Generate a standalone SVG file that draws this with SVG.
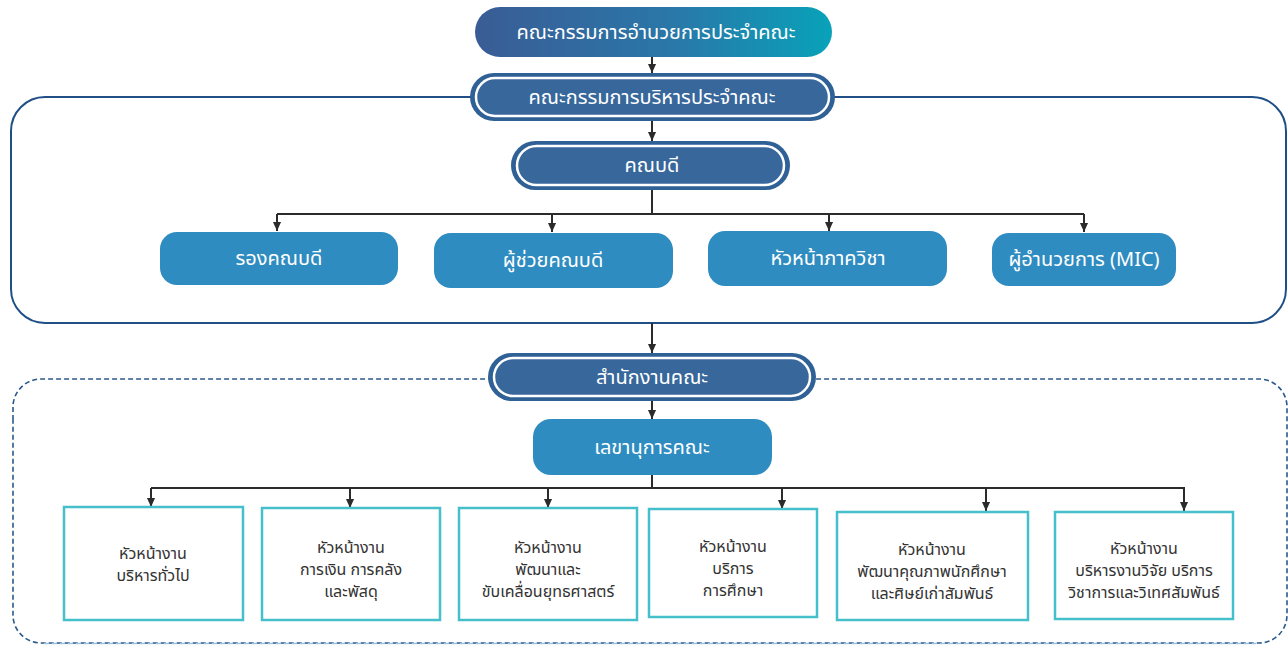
<svg xmlns="http://www.w3.org/2000/svg" width="1288" height="645" viewBox="0 0 1288 645">
  <defs>
    <linearGradient id="gTop" x1="0" y1="0" x2="1" y2="0">
      <stop offset="0" stop-color="#3a5c95"/>
      <stop offset="0.55" stop-color="#2a77a8"/>
      <stop offset="1" stop-color="#08a2b9"/>
    </linearGradient>
    <marker id="ah" viewBox="0 0 10 10" refX="10" refY="5" markerWidth="9" markerHeight="9" markerUnits="userSpaceOnUse" orient="auto">
      <path d="M0,0.5 L10,5 L0,9.5 z" fill="#2b2b2b"/>
    </marker>
    <style>
      text { font-family: "Noto Sans Thai", "Noto Sans", "DejaVu Sans", sans-serif; text-anchor: middle; }
      .w { fill: #ffffff; font-size: 20px; }
      .d { fill: #333333; font-size: 16px; }
      .dark { fill: #2f6096; }
      .ring { fill: #37679b; stroke: #ffffff; stroke-width: 2.5; }
      .mid { fill: #2e8cc1; }
      .box { fill: #ffffff; stroke: #45c0cb; stroke-width: 2.5; }
      .con { fill: none; stroke: #2b2b2b; stroke-width: 2; }
      .arr { fill: none; stroke: #2b2b2b; stroke-width: 2; marker-end: url(#ah); }
    </style>
  </defs>
  <rect width="1288" height="645" fill="#ffffff"/>

  <g id="containers">
    <rect x="11" y="97" width="1275" height="226" rx="34" ry="34" fill="none" stroke="#1f4f86" stroke-width="2"/>
    <path d="M13,420 V407 A28,28 0 0 1 41,379 H1259 A28,28 0 0 1 1287,407 V615 A28,28 0 0 1 1259,643 H41 A28,28 0 0 1 13,615 V420" fill="none" stroke="#2a5a8c" stroke-width="1.6" stroke-dasharray="5 3"/>
    <line x1="44" y1="643.5" x2="1256" y2="643.5" stroke="#9fc0de" stroke-width="1.6" stroke-dasharray="5 3"/>
  </g>

  <g id="connectors">
    <path class="arr" d="M652,57 V73"/>
    <path class="arr" d="M652,121 V141"/>
    <path class="con" d="M652,190 V214 M277,214 H1084"/>
    <path class="arr" d="M277,214 V231"/>
    <path class="arr" d="M552,214 V232"/>
    <path class="arr" d="M829,214 V231"/>
    <path class="arr" d="M1084,214 V232"/>
    <path class="arr" d="M652,323 V353"/>
    <path class="arr" d="M652,401 V419"/>
    <path class="con" d="M652,475 V488 M151,488 H1185"/>
    <path class="arr" d="M151,488 V507"/>
    <path class="arr" d="M350,488 V508"/>
    <path class="arr" d="M548,488 V508"/>
    <path class="arr" d="M782,488 V509"/>
    <path class="arr" d="M986,488 V511"/>
    <path class="arr" d="M1184,488 V511"/>
  </g>

  <g id="n-board">
    <rect x="475" y="7" width="357" height="50" rx="25" fill="url(#gTop)"/>
    <text class="w" x="656" y="39">คณะกรรมการอำนวยการประจำคณะ</text>
  </g>

  <g id="n-exec">
    <rect class="dark" x="470" y="73" width="365" height="48" rx="24"/>
    <rect class="ring" x="476" y="78" width="353" height="38" rx="19"/>
    <text class="w" x="652" y="104">คณะกรรมการบริหารประจำคณะ</text>
  </g>

  <g id="n-dean">
    <rect class="dark" x="511" y="141" width="279" height="49" rx="24.5"/>
    <rect class="ring" x="517" y="146" width="267" height="39" rx="19.5"/>
    <text class="w" x="652" y="172">คณบดี</text>
  </g>

  <g id="n-vice">
    <rect class="mid" x="160" y="232" width="238" height="53" rx="17"/>
    <text class="w" x="279" y="265">รองคณบดี</text>
  </g>
  <g id="n-assist">
    <rect class="mid" x="434" y="233" width="239" height="55" rx="17"/>
    <text class="w" x="553" y="267">ผู้ช่วยคณบดี</text>
  </g>
  <g id="n-head-dept">
    <rect class="mid" x="708" y="231" width="239" height="55" rx="17"/>
    <text class="w" x="828" y="265">หัวหน้าภาควิชา</text>
  </g>
  <g id="n-mic">
    <rect class="mid" x="992" y="233" width="184" height="53" rx="17"/>
    <text class="w" x="1084" y="266">ผู้อำนวยการ (MIC)</text>
  </g>

  <g id="n-office">
    <rect class="dark" x="488" y="353" width="328" height="48" rx="24"/>
    <rect class="ring" x="494" y="358" width="316" height="38" rx="19"/>
    <text class="w" x="652" y="384">สำนักงานคณะ</text>
  </g>

  <g id="n-secretary">
    <rect class="mid" x="533" y="419" width="239" height="56" rx="18"/>
    <text class="w" x="652" y="454">เลขานุการคณะ</text>
  </g>

  <g id="b-general">
    <rect class="box" x="64" y="507" width="179" height="113"/>
    <text class="d" x="153" y="559">หัวหน้างาน</text>
    <text class="d" x="153" y="581">บริหารทั่วไป</text>
  </g>
  <g id="b-finance">
    <rect class="box" x="262" y="508" width="178" height="112"/>
    <text class="d" x="351" y="553">หัวหน้างาน</text>
    <text class="d" x="351" y="575">การเงิน การคลัง</text>
    <text class="d" x="351" y="597">และพัสดุ</text>
  </g>
  <g id="b-strategy">
    <rect class="box" x="459" y="508" width="178" height="112"/>
    <text class="d" x="548" y="553">หัวหน้างาน</text>
    <text class="d" x="548" y="575">พัฒนาและ</text>
    <text class="d" x="548" y="597">ขับเคลื่อนยุทธศาสตร์</text>
  </g>
  <g id="b-education">
    <rect class="box" x="649" y="509" width="168" height="108"/>
    <text class="d" x="733" y="552">หัวหน้างาน</text>
    <text class="d" x="733" y="574">บริการ</text>
    <text class="d" x="733" y="596">การศึกษา</text>
  </g>
  <g id="b-student">
    <rect class="box" x="837" y="512" width="191" height="108"/>
    <text class="d" x="932" y="555">หัวหน้างาน</text>
    <text class="d" x="932" y="577">พัฒนาคุณภาพนักศึกษา</text>
    <text class="d" x="932" y="599">และศิษย์เก่าสัมพันธ์</text>
  </g>
  <g id="b-research">
    <rect class="box" x="1055" y="512" width="178" height="107"/>
    <text class="d" x="1144" y="554">หัวหน้างาน</text>
    <text class="d" x="1144" y="576">บริหารงานวิจัย บริการ</text>
    <text class="d" x="1144" y="598">วิชาการและวิเทศสัมพันธ์</text>
  </g>
</svg>
